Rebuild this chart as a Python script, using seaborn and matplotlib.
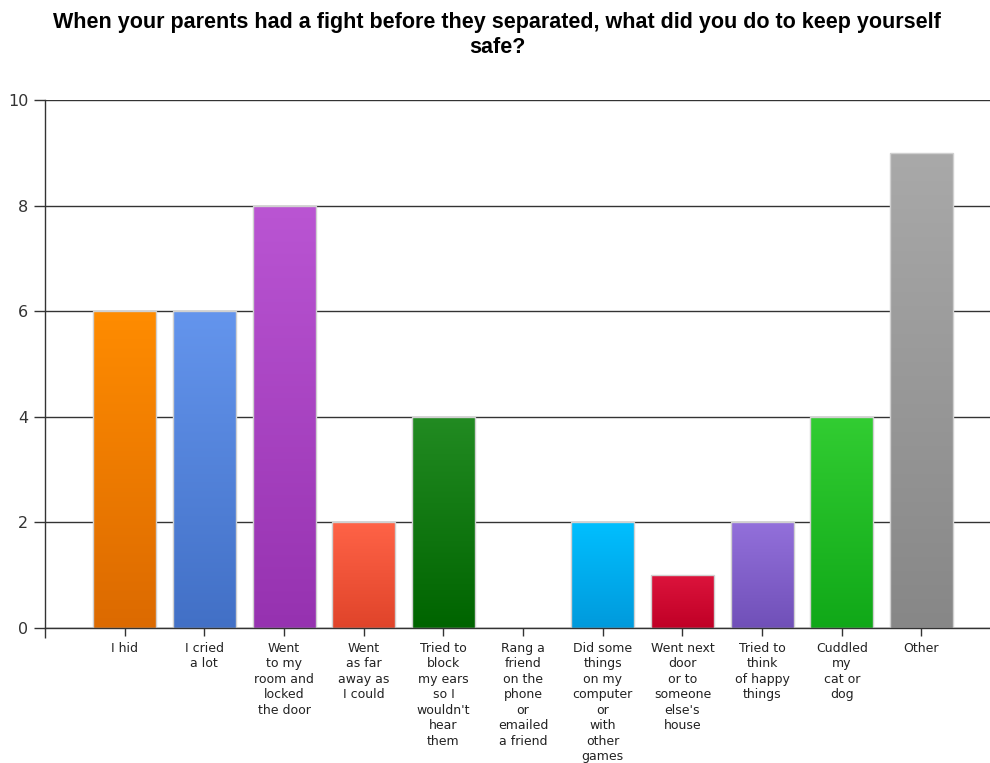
import numpy as np
import pandas as pd
import matplotlib
matplotlib.use("Agg")
import matplotlib.pyplot as plt
from matplotlib.colors import to_rgb
import seaborn as sns

title = "When your parents had a fight before they separated, what did you do to keep yourself\nsafe?"

categories = [
    "I hid",
    "I cried\na lot",
    "Went\nto my\nroom and\nlocked\nthe door",
    "Went\nas far\naway as\nI could",
    "Tried to\nblock\nmy ears\nso I\nwouldn't\nhear\nthem",
    "Rang a\nfriend\non the\nphone\nor\nemailed\na friend",
    "Did some\nthings\non my\ncomputer\nor\nwith\nother\ngames",
    "Went next\ndoor\nor to\nsomeone\nelse's\nhouse",
    "Tried to\nthink\nof happy\nthings",
    "Cuddled\nmy\ncat or\ndog",
    "Other",
]
counts = [6, 6, 8, 2, 4, 0, 2, 1, 2, 4, 9]

top_colors = ["#FF8C00", "#6495ED", "#BA55D3", "#FF6347", "#228B22", "#FFFFFF",
              "#00BFFF", "#DC143C", "#9370DB", "#32CD32", "#A9A9A9"]
bottom_colors = ["#DC6A00", "#4270C6", "#9632B0", "#E0442A", "#006400", "#FFFFFF",
                 "#009ADC", "#C00026", "#7050B8", "#10A818", "#878787"]

y_ticks = [0, 2, 4, 6, 8, 10]

sns.set_theme(style="white")
plt.rcParams["font.family"] = ["DejaVu Sans"]

df = pd.DataFrame({"category": categories, "count": counts})

fig = plt.figure(figsize=(9.9, 7.63), dpi=100)
ax = fig.add_axes([45 / 990, 1 - 628 / 763, 945 / 990, 528 / 763])

sns.barplot(data=df, x="category", y="count", hue="category",
            palette=top_colors, legend=False, width=0.79, ax=ax,
            edgecolor="#D0D0D0", linewidth=1.0, saturation=1)

# vertical gradient fill inside each bar
for patch, c_top, c_bot in zip(ax.patches, top_colors, bottom_colors):
    x0, w, h = patch.get_x(), patch.get_width(), patch.get_height()
    if h <= 0:
        continue
    t = np.linspace(0, 1, 256)[:, None]
    top = np.array(to_rgb(c_top))
    bot = np.array(to_rgb(c_bot))
    grad = (top[None, None, :] * (1 - t[..., None]) + bot[None, None, :] * t[..., None])
    grad = np.repeat(grad, 2, axis=1)
    im = ax.imshow(grad, extent=[x0, x0 + w, 0, h], aspect="auto",
                   origin="upper", zorder=patch.get_zorder() + 0.1,
                   interpolation="bilinear")
    im.set_clip_path(patch)
    patch.set_facecolor("none")
    patch.set_zorder(patch.get_zorder() + 0.2)

ax.set_xlim(-1, 10.86)
ax.set_ylim(0, 10)
ax.set_yticks(y_ticks)
ax.set_yticklabels([str(v) for v in y_ticks], fontsize=11.5, color="#333333")
ax.set_xticks(range(len(categories)))
ax.set_xticklabels(categories, fontsize=9, color="#222222", linespacing=1.25,
                   va="top")
ax.set_xlabel("")
ax.set_ylabel("")

ax.set_axisbelow(True)
ax.yaxis.grid(True, color="#333333", linewidth=1.0)
ax.xaxis.grid(False)

for side in ["top", "right"]:
    ax.spines[side].set_visible(False)
for side in ["left", "bottom"]:
    ax.spines[side].set_color("#333333")
    ax.spines[side].set_linewidth(1.0)

ax.tick_params(axis="y", which="major", left=True, length=8, width=1,
               color="#333333", pad=4)
ax.tick_params(axis="x", which="major", bottom=True, length=6, width=1,
               color="#333333", pad=4)
ax.set_xticks([-1], minor=True)
ax.tick_params(axis="x", which="minor", bottom=True, length=7, width=1,
               color="#333333")

fig.text(0.502, 1 - 35 / 763, title, ha="center", va="center",
         fontsize=15.5, fontweight="bold", family=["Liberation Sans", "DejaVu Sans"],
         linespacing=1.25, color="#000000")

fig.savefig("out.png", dpi=100)
